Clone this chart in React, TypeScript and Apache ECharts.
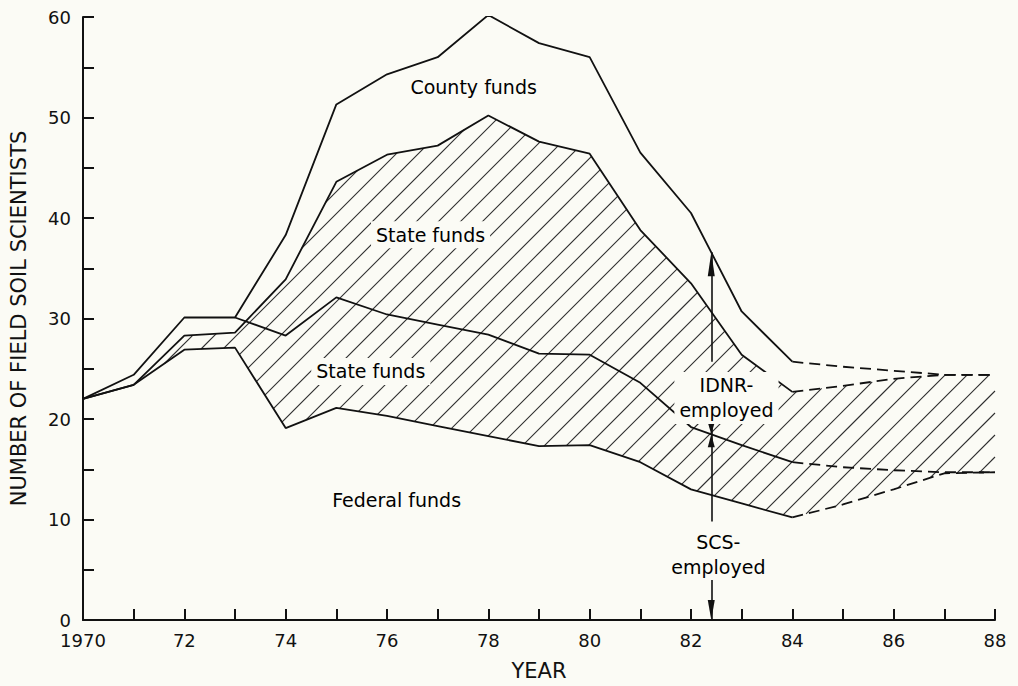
import React, { useEffect, useRef } from 'react';
import * as echarts from 'echarts';

// ---- data ----
const solidYears = [1970, 1971, 1972, 1973, 1974, 1975, 1976, 1977, 1978, 1979, 1980, 1981, 1982, 1983, 1984];
const dashedYears = [1984, 1985, 1986, 1987, 1988];
const scsYears = [1973, 1974, 1975, 1976, 1977, 1978, 1979, 1980, 1981, 1982, 1983, 1984];

// top line: all funds (county + state + federal)
const totalSolid = [22.0, 24.4, 30.1, 30.1, 38.3, 51.3, 54.3, 56.0, 60.2, 57.4, 56.0, 46.5, 40.5, 30.7, 25.7];
const totalDashed = [25.7, 25.2, 24.8, 24.4, 24.4];
// top of state-funded (hatched) band
const stateTopSolid = [22.0, 23.4, 28.3, 28.6, 33.9, 43.6, 46.3, 47.2, 50.2, 47.6, 46.4, 38.8, 33.5, 26.4, 22.7];
const stateTopDashed = [22.7, 23.3, 24.0, 24.4, 24.4];
// boundary SCS-employed / IDNR-employed
const scsSolid = [30.1, 28.3, 32.1, 30.4, 29.4, 28.4, 26.5, 26.4, 23.6, 19.2, 17.4, 15.7];
const scsDashed = [15.7, 15.2, 14.9, 14.7, 14.7];
// top of federal funds
const federalSolid = [22.0, 23.4, 26.9, 27.1, 19.1, 21.1, 20.3, 19.3, 18.3, 17.3, 17.4, 15.7, 13.0, 11.6, 10.2];
const federalDashed = [10.2, 11.5, 13.0, 14.6, 14.7];

const xLabelYears = [1970, 1972, 1974, 1976, 1978, 1980, 1982, 1984, 1986, 1988];
const xLabelTexts = ['1970', '72', '74', '76', '78', '80', '82', '84', '86', '88'];
const yLabelValues = [0, 10, 20, 30, 40, 50, 60];

const annotationNames = ['County funds', 'State funds', 'State funds', 'Federal funds', 'IDNR-\nemployed', 'SCS-\nemployed'];
const annotationX = [1977.71, 1976.86, 1975.68, 1976.19, 1982.7, 1982.54];
const annotationY = [53.05, 38.34, 24.73, 11.92, 22.1, 6.56];

const arrowYear = 1982.4;
const idnrLabelTop = 25.7;
const idnrLabelBottom = 20.1;
const scsLabelTop = 9.8;
const scsLabelBottom = 4.1;

const BG = '#fbfbf5';
const INK = '#111111';
const HATCH = '#2e2e2e';
const FONT = 'DejaVu Sans';
const HATCH_STEP = 22; // horizontal spacing of hatch lines, px

function interp(xs: number[], ys: number[], x: number) {
  for (let i = 0; i < xs.length - 1; i++) {
    if (x >= xs[i] && x <= xs[i + 1]) {
      const t = (x - xs[i]) / (xs[i + 1] - xs[i]);
      return ys[i] + t * (ys[i + 1] - ys[i]);
    }
  }
  return ys[ys.length - 1];
}

const pairs = (xs: number[], ys: number[]) => xs.map((x, i) => [x, ys[i]]);

export default function App() {
  const ref = useRef<HTMLDivElement>(null);
  useEffect(() => {
    document.body.style.margin = '0';
    document.body.style.background = BG;
    const chart = echarts.init(ref.current!, null, { renderer: 'svg' });

    const allYears = solidYears.concat(dashedYears.slice(1));
    const lowerAll = federalSolid.concat(federalDashed.slice(1));
    const upperAll = stateTopSolid.concat(stateTopDashed.slice(1));

    const totalAt = interp(solidYears, totalSolid, arrowYear);
    const scsAt = interp(scsYears, scsSolid, arrowYear);

    const lineSeries = (name: string, xs: number[], ys: number[], dashed: boolean) => ({
      name,
      type: 'line',
      data: pairs(xs, ys),
      symbol: 'none',
      silent: true,
      z: 5,
      lineStyle: { color: INK, width: 1.8, type: dashed ? [11, 6] : 'solid' },
    });

    const hatchRender = (params: any, api: any) => {
      if (params.dataIndex !== 0) return null;
      const poly: number[][] = [];
      for (let i = 0; i < allYears.length; i++) poly.push(api.coord([allYears[i], upperAll[i]]));
      for (let i = allYears.length - 1; i >= 0; i--) poly.push(api.coord([allYears[i], lowerAll[i]]));
      let cmin = Infinity;
      let cmax = -Infinity;
      poly.forEach((p) => {
        cmin = Math.min(cmin, p[0] + p[1]);
        cmax = Math.max(cmax, p[0] + p[1]);
      });
      const children: any[] = [];
      for (let c = Math.ceil(cmin / HATCH_STEP) * HATCH_STEP; c <= cmax; c += HATCH_STEP) {
        const hits: number[][] = [];
        for (let k = 0; k < poly.length; k++) {
          const a = poly[k];
          const b = poly[(k + 1) % poly.length];
          const fa = a[0] + a[1] - c;
          const fb = b[0] + b[1] - c;
          if ((fa < 0 && fb >= 0) || (fa >= 0 && fb < 0)) {
            const t = fa / (fa - fb);
            hits.push([a[0] + t * (b[0] - a[0]), a[1] + t * (b[1] - a[1])]);
          }
        }
        hits.sort((p, q) => p[0] - q[0]);
        for (let h = 0; h + 1 < hits.length; h += 2) {
          children.push({
            type: 'line',
            shape: { x1: hits[h][0], y1: hits[h][1], x2: hits[h + 1][0], y2: hits[h + 1][1] },
            style: { stroke: HATCH, lineWidth: 1.1 },
          });
        }
      }
      return { type: 'group', children };
    };

    const arrow = (y0: number, y1: number, head: number) => [
      { coord: [arrowYear, y0], symbol: 'none' },
      { coord: [arrowYear, y1], symbol: 'triangle', symbolSize: [7, head], symbolOffset: [0, head / 2] },
    ];

    chart.setOption({
      animation: false,
      backgroundColor: BG,
      grid: { left: 82, right: 23, top: 17, bottom: 65 },
      xAxis: {
        type: 'value',
        min: 1970,
        max: 1988,
        interval: 1,
        name: 'YEAR',
        nameLocation: 'middle',
        nameGap: 40,
        nameTextStyle: { fontFamily: FONT, fontSize: 21, color: INK },
        axisLine: { lineStyle: { color: INK, width: 2 } },
        axisTick: { inside: true, length: 11, lineStyle: { color: INK, width: 2 } },
        axisLabel: {
          fontFamily: FONT,
          fontSize: 18,
          color: INK,
          margin: 11,
          formatter: (v: number) => {
            const i = xLabelYears.indexOf(v);
            return i >= 0 ? xLabelTexts[i] : '';
          },
        },
        splitLine: { show: false },
      },
      yAxis: {
        type: 'value',
        min: 0,
        max: 60,
        interval: 5,
        name: 'NUMBER OF FIELD SOIL SCIENTISTS',
        nameLocation: 'middle',
        nameGap: 54,
        nameTextStyle: { fontFamily: FONT, fontSize: 21, color: INK },
        axisLine: { show: true, lineStyle: { color: INK, width: 2 } },
        axisTick: { show: true, inside: true, length: 11, lineStyle: { color: INK, width: 2 } },
        axisLabel: {
          fontFamily: FONT,
          fontSize: 18,
          color: INK,
          margin: 12,
          formatter: (v: number) => (yLabelValues.indexOf(v) >= 0 ? String(v) : ''),
        },
        splitLine: { show: false },
      },
      series: [
        {
          name: 'State funds (hatched)',
          type: 'custom',
          coordinateSystem: 'cartesian2d',
          silent: true,
          z: 2,
          data: [[allYears[0], lowerAll[0]]],
          renderItem: hatchRender,
        },
        lineSeries('Total', solidYears, totalSolid, false),
        lineSeries('Total projected', dashedYears, totalDashed, true),
        lineSeries('State top', solidYears, stateTopSolid, false),
        lineSeries('State top projected', dashedYears, stateTopDashed, true),
        lineSeries('SCS', scsYears, scsSolid, false),
        lineSeries('SCS projected', dashedYears, scsDashed, true),
        lineSeries('Federal', solidYears, federalSolid, false),
        lineSeries('Federal projected', dashedYears, federalDashed, true),
        {
          name: 'labels',
          type: 'scatter',
          symbolSize: 0,
          silent: true,
          z: 8,
          itemStyle: { opacity: 1 },
          data: annotationNames.map((n, i) => ({ name: n, value: [annotationX[i], annotationY[i]] })),
          label: {
            show: true,
            position: 'inside',
            formatter: '{b}',
            fontFamily: FONT,
            fontSize: 19,
            lineHeight: 25,
            color: '#000000',
            opacity: 1,
            textBorderWidth: 0,
            backgroundColor: BG,
            padding: [1, 5],
          },
          markLine: {
            silent: true,
            animation: false,
            label: { show: false },
            lineStyle: { color: INK, width: 1.6, type: 'solid' },
            data: [
              arrow(idnrLabelTop, totalAt, 24),
              arrow(idnrLabelBottom, scsAt, 12),
              arrow(scsLabelTop, scsAt, 13),
              arrow(scsLabelBottom, 0, 20),
            ],
          },
        },
      ],
    });
    return () => chart.dispose();
  }, []);
  return <div ref={ref} style={{ width: 1018, height: 686 }} />;
}
